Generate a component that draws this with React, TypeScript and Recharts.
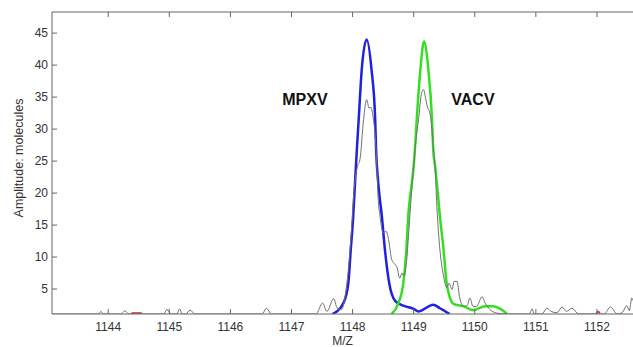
import React from 'react';
import { LineChart, Line, XAxis, YAxis, ReferenceDot } from 'recharts';

// measured spectrum (grey)
const greyMz = [
  1143.08, 1143.84, 1143.88, 1143.92, 1144.21, 1144.27, 1144.34, 1144.91, 1144.96, 1145.03,
  1145.125, 1145.17, 1145.21, 1145.27, 1145.34, 1145.42, 1146.52, 1146.59, 1146.67, 1147.4,
  1147.51, 1147.58, 1147.69, 1147.75, 1147.82, 1147.88, 1147.93, 1147.98, 1148.02, 1148.08,
  1148.12, 1148.18, 1148.23, 1148.27, 1148.3, 1148.33, 1148.385, 1148.42, 1148.45, 1148.5,
  1148.55, 1148.59, 1148.64, 1148.7, 1148.73, 1148.77, 1148.81, 1148.84, 1148.88, 1148.92,
  1148.96, 1149.0, 1149.04, 1149.08, 1149.12, 1149.16, 1149.2, 1149.23, 1149.26, 1149.29,
  1149.32, 1149.35, 1149.38, 1149.43, 1149.49, 1149.54, 1149.58, 1149.63, 1149.66, 1149.71,
  1149.75, 1149.815, 1149.875, 1149.92, 1149.97, 1150.03, 1150.12, 1150.17, 1150.25, 1150.36,
  1150.5, 1150.89, 1150.94, 1150.97, 1151.1, 1151.18, 1151.25, 1151.345, 1151.43, 1151.5,
  1151.59, 1151.7, 1152.12, 1152.22, 1152.33, 1152.41, 1152.49, 1152.53, 1152.57, 1152.59,
];
const greyAmp = [
  1.1, 1.1, 1.5, 1.1, 1.1, 1.6, 1.1, 1.1, 1.8, 1.1,
  1.1, 1.9, 1.1, 1.1, 1.7, 1.1, 1.1, 2.0, 1.1, 1.1,
  2.8, 1.5, 3.5, 2.0, 1.8, 4.0, 8.0, 14.0, 20.0, 24.2,
  25.2, 31.5, 34.6, 33.3, 33.4, 32.2, 26.8, 19.0, 16.3, 13.8,
  14.0, 12.7, 9.6, 8.8, 8.3, 6.7, 7.5, 7.0, 9.0, 14.0,
  19.5, 24.2, 28.5, 31.5, 35.1, 36.2, 34.6, 33.3, 32.7, 30.9,
  27.3, 24.2, 17.9, 11.1, 7.0, 5.2, 5.9, 4.9, 6.2, 6.2,
  3.8, 2.3, 2.4, 3.6, 2.3, 2.3, 3.8, 2.8, 1.8, 1.25,
  1.1, 1.1, 1.9, 1.1, 1.1, 2.0, 1.5, 1.3, 2.2, 1.5,
  2.0, 1.1, 1.1, 2.2, 1.1, 1.3, 2.4, 1.6, 3.6, 3.2,
];

// MPXV fit (blue)
const mpxvMz = [
  1147.67, 1147.85, 1147.93, 1147.97, 1148.01, 1148.04, 1148.07, 1148.1, 1148.15, 1148.23,
  1148.31, 1148.37, 1148.385, 1148.42, 1148.48, 1148.53, 1148.6, 1148.7, 1148.83, 1149.0,
  1149.08, 1149.32, 1149.43, 1149.59,
];
const mpxvAmp = [
  1.1, 2.8, 5.9, 11.1, 16.3, 21.6, 26.8, 31.5, 39.3, 44.0,
  39.3, 31.5, 26.8, 21.6, 16.3, 11.1, 5.9, 3.1, 2.4, 1.9,
  1.5, 2.55, 2.0, 1.1,
];

// VACV fit (green)
const vacvMz = [
  1148.64, 1148.75, 1148.83, 1148.88, 1148.91, 1148.97, 1149.0, 1149.02, 1149.05, 1149.11,
  1149.17, 1149.24, 1149.3, 1149.32, 1149.35, 1149.38, 1149.43, 1149.49, 1149.54, 1149.65,
  1149.82, 1149.98, 1150.17, 1150.3, 1150.42, 1150.53,
];
const vacvAmp = [
  1.1, 2.8, 5.9, 11.1, 16.3, 21.6, 24.2, 26.8, 31.5, 39.3,
  43.7, 39.3, 31.5, 26.8, 24.2, 21.6, 16.3, 11.1, 5.9, 2.7,
  2.3, 1.7, 2.3, 2.3, 1.9, 1.1,
];

// small red marks on the baseline
const redMz = [1144.38, 1144.55, 1144.6, 1151.99, 1152.02, 1152.05];
const redAmp: (number | null)[] = [1.25, 1.25, null, 1.2, 1.5, 1.2];

const xTicks = [1144, 1145, 1146, 1147, 1148, 1149, 1150, 1151, 1152];
const yTicks = [5, 10, 15, 20, 25, 30, 35, 40, 45];

const zip = (xs: number[], ys: (number | null)[]) => xs.map((mz, i) => ({ mz, amp: ys[i] }));

const greyData = zip(greyMz, greyAmp);
const mpxvData = zip(mpxvMz, mpxvAmp);
const vacvData = zip(vacvMz, vacvAmp);
const redData = zip(redMz, redAmp);

const AXIS = '#666';
const TEXT = '#333';

const BottomTick = (props: any) => {
  const { x, y, payload } = props;
  return (
    <g>
      <line x1={x} x2={x} y1={y - 17} y2={y - 22} stroke={AXIS} />
      <text x={x} y={y} textAnchor="middle" fontSize={12} fill={TEXT}>{payload.value}</text>
    </g>
  );
};

const TopTick = (props: any) => {
  const { x, y } = props;
  return <line x1={x} x2={x} y1={y} y2={y + 5} stroke={AXIS} />;
};

const LeftTick = (props: any) => {
  const { x, y, payload } = props;
  return (
    <g>
      <line x1={x + 4} x2={x + 9} y1={y} y2={y} stroke={AXIS} />
      <text x={x} y={y} dy={4} textAnchor="end" fontSize={12} fill={TEXT}>{payload.value}</text>
    </g>
  );
};

export default function App() {
  return (
    <div
      style={{
        position: 'absolute',
        left: 0,
        top: 0,
        width: 633,
        height: 347,
        background: '#fff',
        fontFamily: 'Arial, "Liberation Sans", sans-serif',
      }}
    >
      <LineChart width={633} height={347} margin={{ top: 10, right: 0, bottom: 3, left: 12 }}>
        <XAxis
          dataKey="mz"
          type="number"
          domain={[1143.08, 1152.59]}
          ticks={xTicks}
          allowDataOverflow
          height={30}
          stroke={AXIS}
          tickLine={false}
          tickSize={0}
          tickMargin={17}
          tick={<BottomTick />}
          label={{
            content: (p: any) => (
              <text x={p.viewBox.x + p.viewBox.width / 2} y={345} textAnchor="middle" fontSize={12} fill={TEXT}>
                M/Z
              </text>
            ),
          }}
        />
        <XAxis
          xAxisId="top"
          orientation="top"
          dataKey="mz"
          type="number"
          domain={[1143.08, 1152.59]}
          ticks={xTicks}
          allowDataOverflow
          height={2}
          stroke={AXIS}
          tickLine={false}
          tickSize={0}
          tickMargin={0}
          tick={<TopTick />}
        />
        <YAxis
          type="number"
          domain={[1.1, 48.3]}
          ticks={yTicks}
          allowDataOverflow
          width={40}
          stroke={AXIS}
          tickLine={false}
          tickSize={0}
          tickMargin={4}
          tick={<LeftTick />}
          label={{
            content: (p: any) => {
              const cx = 19;
              const cy = p.viewBox.y + p.viewBox.height / 2 - 5;
              return (
                <text x={cx} y={cy} transform={`rotate(-90 ${cx} ${cy})`} textAnchor="middle" dy={4} fontSize={12.5} fill={TEXT}>
                  Amplitude: molecules
                </text>
              );
            },
          }}
        />
        <Line data={redData} dataKey="amp" type="monotone" stroke="#e02020" strokeWidth={1.5} dot={false} activeDot={false} isAnimationActive={false} />
        <Line data={mpxvData} dataKey="amp" type="monotone" stroke="#2020e0" strokeWidth={2.5} dot={false} activeDot={false} isAnimationActive={false} />
        <Line data={vacvData} dataKey="amp" type="monotone" stroke="#33e020" strokeWidth={2.5} dot={false} activeDot={false} isAnimationActive={false} />
        <Line data={greyData} dataKey="amp" type="monotone" stroke="#707070" strokeWidth={1} dot={false} activeDot={false} isAnimationActive={false} />
        <ReferenceDot
          x={1147.22}
          y={34.6}
          r={0}
          fill="none"
          stroke="none"
          label={{ value: 'MPXV', position: 'center', fontSize: 16, fontWeight: 'bold', fill: '#111' }}
        />
        <ReferenceDot
          x={1149.97}
          y={34.6}
          r={0}
          fill="none"
          stroke="none"
          label={{ value: 'VACV', position: 'center', fontSize: 16, fontWeight: 'bold', fill: '#111' }}
        />
      </LineChart>
    </div>
  );
}
